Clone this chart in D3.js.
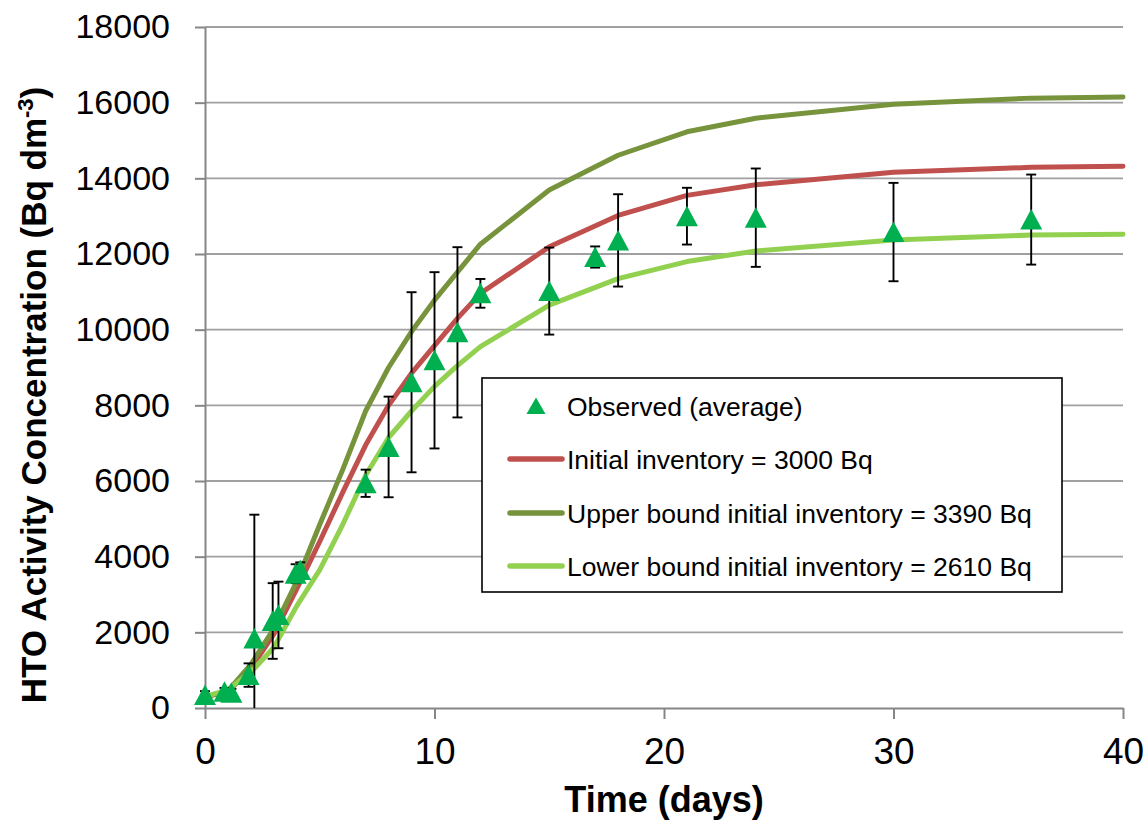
<!DOCTYPE html>
<html>
<head>
<meta charset="utf-8">
<script src="https://cdn.jsdelivr.net/npm/d3@7"></script>
<style>
  html, body { margin: 0; padding: 0; background: #ffffff; }
  svg { display: block; font-family: "Liberation Sans", Arial, sans-serif; }
</style>
</head>
<body>
<svg id="chart" width="1146" height="821"></svg>
<script>
// ---------- data ----------
const xTicks = [0, 10, 20, 30, 40];
const yTicks = [0, 2000, 4000, 6000, 8000, 10000, 12000, 14000, 16000, 18000];

const obsTime  = [0, 0.85, 1.15, 1.9, 2.15, 2.95, 3.2, 3.95, 4.15, 7, 8, 9, 10, 11, 12, 15, 17, 18, 21, 24, 30, 36];
const obsValue = [345, 430, 405, 870, 1840, 2300, 2460, 3550, 3650, 5940, 6900, 8610, 9190, 9930, 10960, 11020, 11920, 12360, 13000, 12960, 12580, 12910];
const obsError = [100, 100, 100, 310, 3270, 1000, 880, 250, 200, 360, 1330, 2380, 2330, 2250, 380, 1150, 280, 1220, 750, 1300, 1300, 1190];

const modelTime        = [0, 1, 2, 3, 4, 5, 6, 7, 8, 9, 10, 11, 12, 15, 18, 21, 24, 30, 36, 40];
const initialInventory = [300, 420, 1050, 1950, 3150, 4400, 5700, 6950, 8000, 8850, 9580, 10300, 10960, 12190, 13020, 13550, 13830, 14160, 14290, 14320];
const upperBound       = [300, 450, 1150, 2100, 3350, 4850, 6300, 7850, 9000, 9950, 10780, 11520, 12260, 13690, 14610, 15230, 15590, 15960, 16120, 16150];
const lowerBound       = [300, 480, 950, 1600, 2700, 3650, 4850, 6150, 7150, 7850, 8500, 9050, 9550, 10650, 11350, 11800, 12080, 12370, 12500, 12520];

const seriesNames = [
  "Observed (average)",
  "Initial inventory = 3000 Bq",
  "Upper bound initial inventory = 3390 Bq",
  "Lower bound initial inventory = 2610 Bq"
];
const seriesColors = ["#00B050", "#C0504D", "#77933C", "#92D050"];

// ---------- layout ----------
const svg = d3.select("#chart");
const x = d3.scaleLinear().domain([0, 40]).range([205, 1123]);
const y = d3.scaleLinear().domain([0, 18000]).range([708, 27]);

// gridlines
svg.append("g").selectAll("line")
  .data(yTicks.filter(d => d > 0))
  .join("line")
  .attr("x1", x(0)).attr("x2", x(40))
  .attr("y1", d => y(d)).attr("y2", d => y(d))
  .attr("stroke", "#A0A0A0").attr("stroke-width", 1.8);

// axes
const xAxis = svg.append("g")
  .attr("transform", `translate(0,${y(0)})`)
  .call(d3.axisBottom(x).tickValues(xTicks).tickFormat(d3.format("d")).tickSizeInner(11).tickSizeOuter(0).tickPadding(19));
const yAxis = svg.append("g")
  .attr("transform", `translate(${x(0)},0)`)
  .call(d3.axisLeft(y).tickValues(yTicks).tickFormat(d3.format("d")).tickSizeInner(10).tickSizeOuter(0).tickPadding(25));

[xAxis, yAxis].forEach(g => {
  g.select(".domain").attr("stroke", "#868686").attr("stroke-width", 2);
  g.selectAll(".tick line").attr("stroke", "#868686").attr("stroke-width", 2);
  g.selectAll(".tick text").attr("fill", "#000").attr("font-family", "'Liberation Sans', Arial, sans-serif");
});
xAxis.selectAll(".tick text").attr("font-size", 37);
yAxis.selectAll(".tick text").attr("font-size", 34);

// axis titles
svg.append("text")
  .attr("x", (x(0) + x(40)) / 2).attr("y", 812)
  .attr("text-anchor", "middle")
  .attr("font-size", 36).attr("font-weight", "bold")
  .text("Time (days)");

const yt = svg.append("text")
  .attr("transform", `translate(46,${395}) rotate(-90)`)
  .attr("text-anchor", "middle")
  .attr("font-size", 35).attr("font-weight", "bold");
yt.append("tspan").text("HTO Activity Concentration (Bq dm");
yt.append("tspan").attr("font-size", 22).attr("dy", -13).text("-3");
yt.append("tspan").attr("dy", 13).text(")");

// model curves
const modelSeries = [initialInventory, upperBound, lowerBound];
const line = d3.line().x(d => x(d[0])).y(d => y(d[1]));
modelSeries.forEach((vals, i) => {
  svg.append("path")
    .datum(modelTime.map((t, j) => [t, vals[j]]))
    .attr("d", line)
    .attr("fill", "none")
    .attr("stroke", seriesColors[i + 1])
    .attr("stroke-width", 5)
    .attr("stroke-linejoin", "round")
    .attr("stroke-linecap", "round");
});

// observed error bars
const obs = obsTime.map((t, i) => ({ t, v: obsValue[i], e: obsError[i] }));
const eb = svg.append("g").attr("stroke", "#000").attr("stroke-width", 1.9);
obs.forEach(d => {
  const lo = Math.max(0, d.v - d.e), hi = d.v + d.e;
  eb.append("line").attr("x1", x(d.t)).attr("x2", x(d.t)).attr("y1", y(lo)).attr("y2", y(hi));
  eb.append("line").attr("x1", x(d.t) - 5).attr("x2", x(d.t) + 5).attr("y1", y(hi)).attr("y2", y(hi));
  if (d.v - d.e > 0) {
    eb.append("line").attr("x1", x(d.t) - 5).attr("x2", x(d.t) + 5).attr("y1", y(lo)).attr("y2", y(lo));
  }
});

// observed triangles
svg.append("g").selectAll("path")
  .data(obs)
  .join("path")
  .attr("transform", d => `translate(${x(d.t)},${y(d.v)})`)
  .attr("d", "M0,-10.5L11,10L-11,10Z")
  .attr("fill", seriesColors[0]);

// legend
const lg = svg.append("g");
lg.append("rect")
  .attr("x", 482).attr("y", 378).attr("width", 580).attr("height", 214)
  .attr("fill", "#fff").attr("stroke", "#000").attr("stroke-width", 1.6);
const rowY = [406, 459, 513, 566];
seriesNames.forEach((name, i) => {
  if (i === 0) {
    lg.append("path")
      .attr("transform", `translate(536,${rowY[i]})`)
      .attr("d", "M0,-8.5L9.5,8L-9.5,8Z")
      .attr("fill", seriesColors[0]);
  } else {
    lg.append("line")
      .attr("x1", 510).attr("x2", 562)
      .attr("y1", rowY[i]).attr("y2", rowY[i])
      .attr("stroke", seriesColors[i]).attr("stroke-width", 5.5)
      .attr("stroke-linecap", "round");
  }
  lg.append("text")
    .attr("x", 567).attr("y", rowY[i] + 9.5)
    .attr("font-size", 26.5)
    .attr("fill", "#000")
    .text(name);
});
</script>
</body>
</html>
